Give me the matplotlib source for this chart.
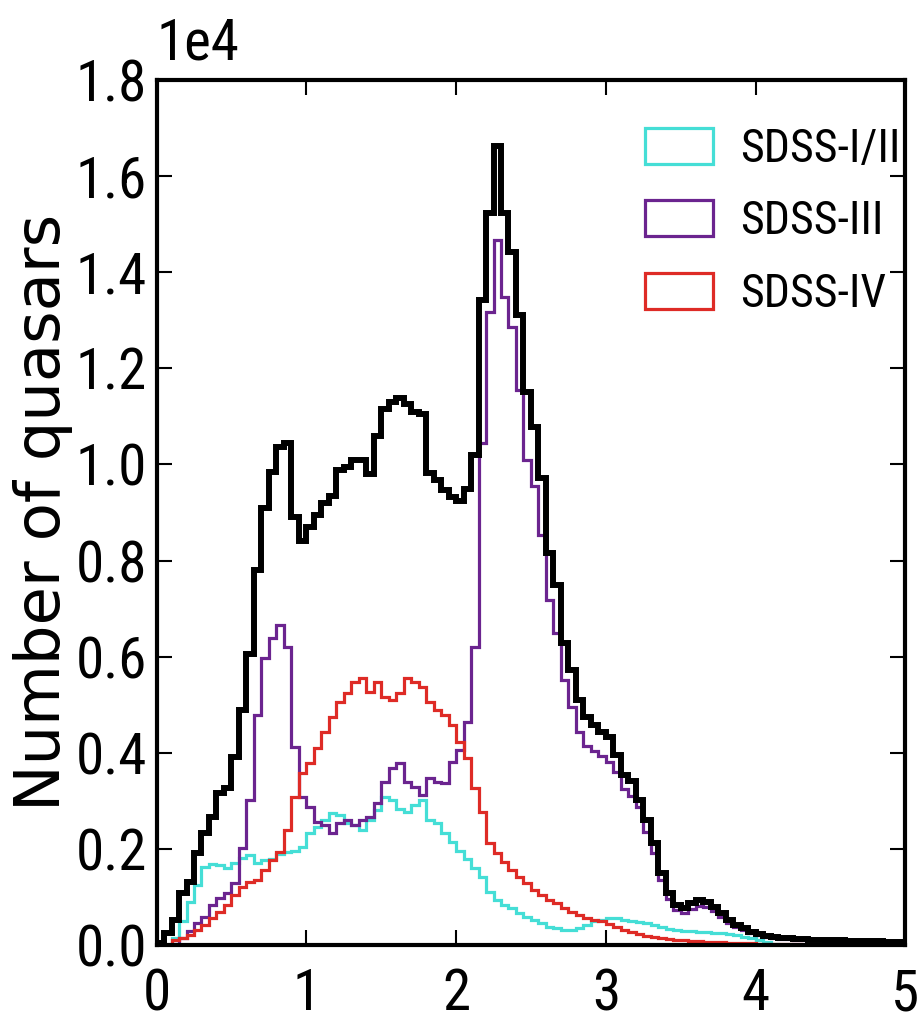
import numpy as np
import matplotlib
matplotlib.use("Agg")
import matplotlib.pyplot as plt

# redshift bins, 0.05 wide
bin_width = 0.05
z_edges = np.round(np.arange(0, 5.0 + bin_width / 2, bin_width), 2)

# number of quasars per bin
n_total = [50, 250, 520, 1080, 1320, 1910, 2330, 2670, 3160, 3270,
           3920, 4890, 6050, 7800, 9090, 9850, 10370, 10440, 8900, 8400,
           8700, 8950, 9200, 9350, 9880, 9950, 10090, 10100, 9800, 10600,
           11150, 11300, 11380, 11250, 11100, 11050, 9820, 9680, 9470, 9330,
           9250, 9500, 10200, 13420, 15230, 16630, 15230, 14430, 13110, 11510,
           10790, 9720, 8150, 7490, 6280, 5720, 5100, 4750, 4580, 4440,
           4330, 3950, 3540, 3420, 3020, 2600, 2120, 1500, 1080, 830,
           770, 870, 940, 900, 800, 660, 520, 420, 350, 280,
           240, 180, 160, 140, 140, 130, 120, 115, 110, 105,
           100, 95, 90, 90, 85, 80, 75, 70, 65, 60]

n_sdss12 = [0, 0, 150, 500, 900, 1250, 1620, 1680, 1660, 1600,
            1700, 1820, 1870, 1700, 1760, 1800, 1900, 1930, 1960, 2050,
            2330, 2460, 2600, 2740, 2700, 2540, 2500, 2390, 2600, 2810,
            3090, 3020, 2840, 2770, 2910, 3020, 2600, 2540, 2330, 2150,
            1950, 1800, 1600, 1420, 1110, 940, 830, 770, 660, 590,
            520, 450, 380, 350, 310, 310, 350, 420, 490, 520,
            560, 570, 530, 500, 480, 450, 420, 380, 340, 310,
            300, 290, 280, 270, 260, 250, 230, 200, 170, 140,
            100, 60, 25, 10, 5, 5, 3, 3, 2, 2,
            1, 1, 0, 0, 0, 0, 0, 0, 0, 0]

n_sdss3 = [0, 0, 30, 150, 300, 450, 590, 830, 980, 1080,
           1290, 2020, 3020, 4790, 5970, 6390, 6660, 6210, 4130, 3090,
           2880, 2570, 2500, 2330, 2540, 2600, 2500, 2600, 2670, 2950,
           3400, 3680, 3790, 3400, 3290, 3120, 3470, 3400, 3370, 3810,
           4060, 4650, 6210, 10450, 13180, 14670, 13490, 12870, 11550, 10090,
           9550, 8530, 7180, 6490, 5510, 4960, 4440, 4150, 4040, 3930,
           3800, 3600, 3250, 3100, 2880, 2360, 1910, 1350, 950, 720,
           660, 760, 820, 790, 700, 580, 460, 370, 310, 250,
           210, 160, 140, 125, 125, 115, 105, 100, 95, 90,
           85, 80, 75, 75, 70, 65, 60, 55, 50, 45]

n_sdss4 = [0, 0, 100, 140, 210, 310, 420, 560, 690, 830,
           1040, 1210, 1320, 1350, 1560, 1770, 1940, 2390, 3090, 3580,
           3790, 4100, 4440, 4750, 5060, 5240, 5480, 5550, 5270, 5480,
           5170, 5100, 5240, 5550, 5480, 5370, 5060, 4890, 4790, 4580,
           4220, 3900, 3260, 2770, 2120, 1910, 1730, 1560, 1420, 1290,
           1140, 1040, 940, 870, 770, 690, 620, 560, 520, 490,
           430, 380, 320, 280, 240, 190, 160, 140, 120, 105,
           95, 85, 75, 65, 60, 55, 50, 45, 40, 35,
           30, 25, 20, 18, 15, 12, 10, 10, 8, 8,
           6, 6, 5, 5, 4, 4, 3, 3, 2, 2]

labels = ["SDSS-I/II", "SDSS-III", "SDSS-IV"]
colors = ["#45DED6", "#6B248F", "#DE2B26"]

plt.rcParams["font.family"] = ["Roboto Condensed", "DejaVu Sans"]
plt.rcParams["axes.formatter.use_mathtext"] = False

fig = plt.figure(figsize=(9.21, 10.22), dpi=100)
ax = fig.add_axes([0.170, 0.0753, 0.813, 0.8464])

centers = z_edges[:-1] + bin_width / 2
for vals, lab, col in zip([n_sdss12, n_sdss3, n_sdss4], labels, colors):
    ax.hist(centers, bins=z_edges, weights=vals, histtype="step",
            color=col, linewidth=2.3, label=lab)
ax.hist(centers, bins=z_edges, weights=n_total, histtype="step",
        color="black", linewidth=4.3, label="_nolegend_")

ax.set_xlim(0, 5)
ax.set_ylim(0, 18000)
ax.set_yticks(np.arange(0, 18001, 2000))
ax.set_xticks(range(6))
ax.ticklabel_format(axis="y", style="sci", scilimits=(0, 0))

for sp in ax.spines.values():
    sp.set_linewidth(3)
ax.tick_params(direction="in", top=True, right=True, length=11, width=1.5,
               labelsize=41)
ax.tick_params(axis="x", pad=16)
ax.tick_params(axis="y", pad=7)
ax.yaxis.get_offset_text().set_fontsize(41)
ax.yaxis.OFFSETTEXTPAD = 15  # lift the "1e4" a bit higher

ax.set_ylabel("Number of quasars", fontsize=45, family="DejaVu Sans")
ax.yaxis.set_label_coords(-0.112, 0.5)

ax.legend(loc="upper left", bbox_to_anchor=(0.652, 0.946), frameon=False,
          fontsize=33, handlelength=1.48, handleheight=0.83,
          handletextpad=0.59, labelspacing=0.62, borderpad=0,
          borderaxespad=0)

fig.savefig("out.png", dpi=100, facecolor="white")
